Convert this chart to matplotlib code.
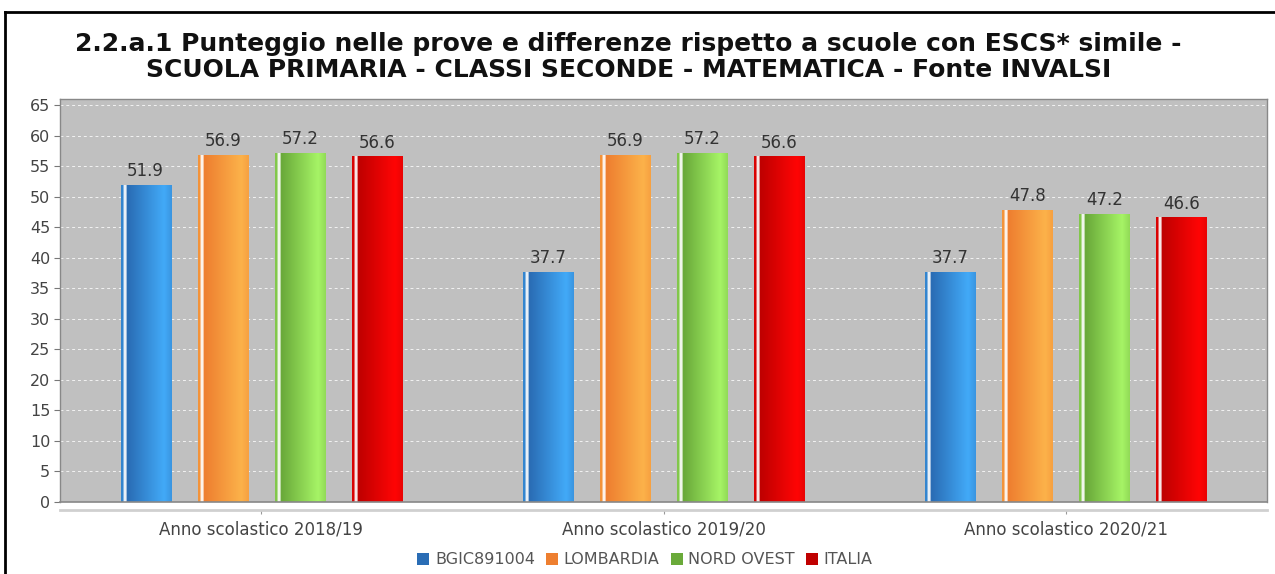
import numpy as np
import matplotlib
matplotlib.use("Agg")
import matplotlib.pyplot as plt
from matplotlib.lines import Line2D
from matplotlib.patches import Patch

# data
years = ["Anno scolastico 2018/19", "Anno scolastico 2019/20", "Anno scolastico 2020/21"]
series = ["BGIC891004", "LOMBARDIA", "NORD OVEST", "ITALIA"]
bgic = [51.9, 37.7, 37.7]
lombardia = [56.9, 56.9, 47.8]
nord_ovest = [57.2, 57.2, 47.2]
italia = [56.6, 56.6, 46.6]
values = [bgic, lombardia, nord_ovest, italia]

title = ("2.2.a.1 Punteggio nelle prove e differenze rispetto a scuole con ESCS* simile -\n"
         "SCUOLA PRIMARIA - CLASSI SECONDE - MATEMATICA - Fonte INVALSI")

# dark / light ends of the gradient for each series
dark = ["#2a6db5", "#ee7f30", "#6aaa3a", "#c00000"]
light = ["#42aaf8", "#fcb24a", "#a6f466", "#ff0505"]


def hex2rgb(h):
    return np.array(matplotlib.colors.to_rgb(h))


def gradient(c_dark, c_light, n=200):
    d, l = hex2rgb(c_dark), hex2rgb(c_light)
    w = np.ones(3)
    t = np.linspace(0, 1, n)
    out = np.zeros((n, 3))
    for i, x in enumerate(t):
        if x < 0.05:
            c = 0.6 * d + 0.4 * l
        elif x < 0.11:
            c = 0.1 * d + 0.9 * w
        elif x < 0.14:
            c = d
        elif x < 0.85:
            f = (x - 0.14) / 0.71
            c = (1 - f) * d + f * l
        else:
            f = (x - 0.85) / 0.15
            c = (1 - 0.35 * f) * l + 0.35 * f * d
        out[i] = c
    return out[np.newaxis, :, :]


fig = plt.figure(figsize=(12.75, 5.74), dpi=100)
ax = fig.add_axes([60 / 1275, 1 - 502 / 574, 1207 / 1275, 403 / 574])
ax.set_facecolor("#c0c0c0")

x = np.arange(len(years))
step = 0.1915
width = 0.1244
offsets = (np.arange(len(series)) - 1.5) * step

for k, name in enumerate(series):
    bars = ax.bar(x + offsets[k], values[k], width, color=dark[k], zorder=2, label=name,
                  edgecolor="none")
    img = gradient(dark[k], light[k])
    for b, v in zip(bars, values[k]):
        x0 = b.get_x()
        im = ax.imshow(img, extent=(x0, x0 + b.get_width(), 0, b.get_height()),
                       aspect="auto", zorder=3, interpolation="bilinear")
        im.set_clip_path(b)
        ax.text(x0 + b.get_width() / 2, v + 0.8, f"{v:.1f}", ha="center", va="bottom",
                fontsize=12, color="#333333", zorder=4)

ax.set_xlim(-0.5, 2.5)
ax.set_ylim(0, 66)
ax.set_yticks(np.arange(0, 70, 5))
ax.set_xticks(x)
ax.set_xticklabels(years)

ax.yaxis.grid(True, color="#f2f2f2", linestyle=(0, (3, 3)), linewidth=0.7, zorder=1)
ax.set_axisbelow(True)

for s in ["left", "right", "top"]:
    ax.spines[s].set_color("#888888")
    ax.spines[s].set_linewidth(1)
ax.axhline(0, color="#888888", linewidth=1.2, zorder=5, clip_on=False)
ax.spines["bottom"].set_position(("outward", 6))
ax.spines["bottom"].set_color("#d0d0d0")
ax.spines["bottom"].set_linewidth(2)

ax.tick_params(axis="y", length=4, width=0.8, color="#777777", labelsize=11.5,
               labelcolor="#444444", pad=3)
ax.tick_params(axis="x", length=3, width=0.8, color="#999999", labelsize=12,
               labelcolor="#444444", pad=4)

fig.text(0.493, 1 - 57 / 574, title, ha="center", va="center", fontsize=18,
         fontweight="bold", linespacing=1.12, color="#111111")

handles = [Patch(facecolor=dark[k], edgecolor="none") for k in range(len(series))]
fig.legend(handles, series, loc="center", bbox_to_anchor=(0.506, 1 - 560 / 574), ncol=4,
           frameon=False, fontsize=11.5, handlelength=0.75, handleheight=0.75,
           handletextpad=0.35, columnspacing=0.7, labelcolor="#555555")

# outer frame of the screenshot
fig.add_artist(Line2D([5 / 1275, 1], [1 - 12 / 574] * 2, color="black", linewidth=2,
                      transform=fig.transFigure))
fig.add_artist(Line2D([5 / 1275] * 2, [0, 1 - 12 / 574], color="black", linewidth=2,
                      transform=fig.transFigure))

fig.savefig("out.png", dpi=100, facecolor="white")
